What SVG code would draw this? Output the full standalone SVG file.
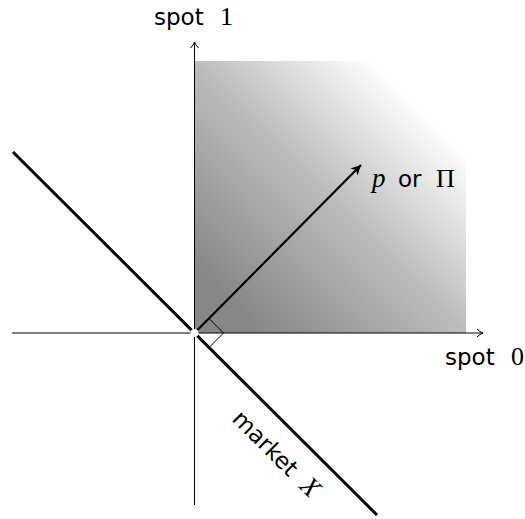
<svg xmlns="http://www.w3.org/2000/svg" width="525" height="519" viewBox="0 0 525 519">
<style>
.sans{font-family:"DejaVu Sans","Noto Sans",sans-serif;font-size:23px;fill:#000}
.serif{font-family:"Liberation Serif","DejaVu Serif",serif;font-size:26px;fill:#000}
.ital{font-family:"Liberation Serif","DejaVu Serif",serif;font-style:italic;font-size:27px;fill:#000}
.ax{stroke:#000;stroke-width:1;fill:none}
</style>
<defs>
<linearGradient id="g" gradientUnits="userSpaceOnUse" x1="195" y1="333" x2="466" y2="61">
<stop offset="0" stop-color="#868686"/>
<stop offset="0.12" stop-color="#878787"/>
<stop offset="0.5" stop-color="#bcbcbc"/>
<stop offset="0.83" stop-color="#ffffff"/>
</linearGradient>
<marker id="thin" markerWidth="10" markerHeight="10" refX="8" refY="5" orient="auto" markerUnits="userSpaceOnUse">
<path d="M2,1 Q5,4 8,5 Q5,6 2,9" fill="none" stroke="#000" stroke-width="1"/>
</marker>
<marker id="thick" markerWidth="14" markerHeight="14" refX="11" refY="7" orient="auto" markerUnits="userSpaceOnUse">
<path d="M1,2 L11,7 L1,12 L4,7 Z" fill="#000"/>
</marker>
</defs>
<g id="region">
<rect x="195" y="61" width="271" height="272" fill="url(#g)"/>
</g>
<g id="connectors">
<line class="ax" x1="194.5" y1="505" x2="194.5" y2="42" marker-end="url(#thin)"/>
<line class="ax" x1="12" y1="333" x2="483" y2="333" marker-end="url(#thin)"/>
<line x1="13" y1="152" x2="377" y2="515" stroke="#000" stroke-width="3"/>
<line x1="194.5" y1="333" x2="361" y2="165" stroke="#000" stroke-width="2.2" marker-end="url(#thick)"/>
<path d="M194.5,333 L209,318.5 L223.5,333 L209,347.5 Z" fill="none" stroke="#000" stroke-width="1"/>
<circle cx="194.5" cy="333" r="4" fill="#fff"/>
</g>
<g id="labels">
<text x="154" y="25" class="sans">spot</text><text x="220" y="25" class="serif">1</text>
<text x="445" y="365" class="sans">spot</text><text x="511" y="365" class="serif">0</text>
<text x="372" y="187" class="ital">p</text><text x="398" y="187" class="sans">or</text><text x="436" y="187" class="serif">Π</text>
<text transform="translate(231,420) rotate(45)"><tspan class="sans">market</tspan><tspan class="ital" x="95">X</tspan></text>
</g>
</svg>
